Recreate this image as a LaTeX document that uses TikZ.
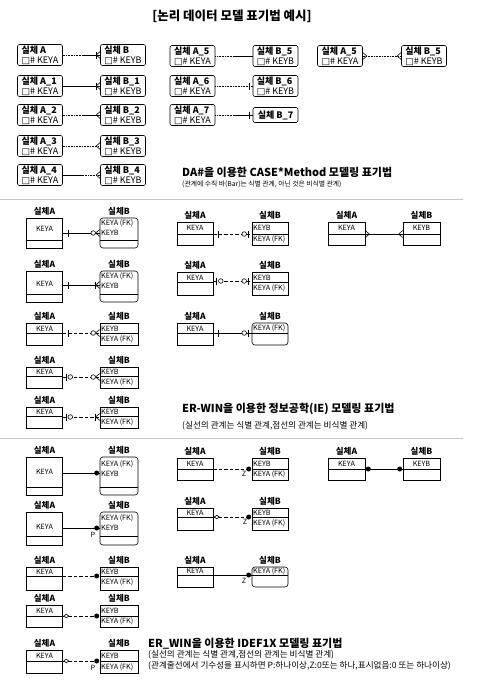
\documentclass[tikz,border=0pt]{standalone}
\usepackage{fontspec}
\setmainfont{Noto Sans CJK KR}
\newfontfamily\symfont{DejaVu Sans}
\usetikzlibrary{calc,positioning}

\newcommand{\keybox}{{\symfont □}}

\tikzset{
  rel/.style={line width=0.6pt},
  opt/.style={rel, densely dotted},
  nid/.style={rel, dash pattern=on 3.5pt off 2pt},
  ent/.style={draw, rel, rounded corners=2pt, minimum width=45, minimum height=21, inner sep=1pt, align=left, font=\fontsize{9}{10}\selectfont},
  tab/.style={draw, rel, minimum width=36, inner sep=0pt},
  keyrow/.style={path picture={\draw[rel] ([yshift=-#1pt]path picture bounding box.north west) -- ([yshift=-#1pt]path picture bounding box.north east);}},
  lab/.style={font=\fontsize{8.5}{9}\selectfont\bfseries, inner sep=1pt},
  keytxt/.style={font=\fontsize{7.2}{8}\selectfont, inner sep=0pt},
  captxt/.style={anchor=west, font=\fontsize{11}{12}\selectfont\bfseries, inner sep=0pt},
  subtxt/.style={anchor=west, font=\fontsize{8.6}{9}\selectfont, inner sep=0pt},
  crow/.pic={\draw[rel] (-4,0) -- (0,-3.5) (-4,0) -- (0,3.5);},
  bar/.pic={\draw[rel] (0,-3.5) -- (0,3.5);},
  ring/.pic={\draw[rel, fill=white] (0,0) circle (2.3);},
  blob/.pic={\fill (0,0) circle (2.5);},
  diam/.pic={\draw[rel, fill=white] (-2.5,0) -- (0,1.8) -- (2.5,0) -- (0,-1.8) -- cycle;},
}

\begin{document}
\begin{tikzpicture}[x=1pt, y=-1pt, label distance=1.5pt]
  \useasboundingbox (0,0) rectangle (485,696);

  \node[font=\fontsize{12.5}{14}\selectfont\bfseries] (title) at (232,16) {[논리 데이터 모델 표기법 예시]};

  % CASE*Method
  \node[ent] (caA0) at (40,55) {\textbf{실체 A}\\\keybox\# KEYA};
  \node[ent] (caB0) at (123,55) {\textbf{실체 B}\\\keybox\# KEYB};
  \node[ent] (caA1) at (40,86) {\textbf{실체 A\_1}\\\keybox\# KEYA};
  \node[ent] (caB1) at (123,86) {\textbf{실체 B\_1}\\\keybox\# KEYB};
  \node[ent] (caA2) at (40,115) {\textbf{실체 A\_2}\\\keybox\# KEYA};
  \node[ent] (caB2) at (123,115) {\textbf{실체 B\_2}\\\keybox\# KEYB};
  \node[ent] (caA3) at (40,146) {\textbf{실체 A\_3}\\\keybox\# KEYA};
  \node[ent] (caB3) at (123,146) {\textbf{실체 B\_3}\\\keybox\# KEYB};
  \node[ent] (caA4) at (40,175) {\textbf{실체 A\_4}\\\keybox\# KEYA};
  \node[ent] (caB4) at (123,175) {\textbf{실체 B\_4}\\\keybox\# KEYB};
  \node[ent] (caA5) at (192.5,56) {\textbf{실체 A\_5}\\\keybox\# KEYA};
  \node[ent] (caB5) at (275.5,56) {\textbf{실체 B\_5}\\\keybox\# KEYB};
  \node[ent] (caA6) at (192.5,86) {\textbf{실체 A\_6}\\\keybox\# KEYA};
  \node[ent] (caB6) at (275.5,86) {\textbf{실체 B\_6}\\\keybox\# KEYB};
  \node[ent] (caA7) at (192.5,115) {\textbf{실체 A\_7}\\\keybox\# KEYA};
  \node[ent, minimum height=15] (caB7) at (275.5,115) {\textbf{실체 B\_7}};
  \node[ent] (caA8) at (340,56) {\textbf{실체 A\_5}\\\keybox\# KEYA};
  \node[ent] (caB8) at (424,56) {\textbf{실체 B\_5}\\\keybox\# KEYB};

  \draw[opt] (caA0) -- ($(caA0.east)!.5!(caB0.west)$) coordinate (m0);
  \draw[rel] (m0) -- (caB0);
  \pic at (caB0.west) {crow}; \pic at ([xshift=-4pt]caB0.west) {bar};
  \draw[rel] (caA1) -- (caB1);
  \pic at (caB1.west) {crow}; \pic at ([xshift=-4pt]caB1.west) {bar};
  \draw[opt] (caA2) -- ($(caA2.east)!.5!(caB2.west)$) coordinate (m2);
  \draw[rel] (m2) -- (caB2);
  \pic at (caB2.west) {crow};
  \draw[opt] (caA3) -- (caB3);
  \pic at (caB3.west) {crow};
  \draw[rel] (caA4) -- ($(caA4.east)!.5!(caB4.west)$) coordinate (m4);
  \draw[opt] (m4) -- (caB4);
  \pic at (caB4.west) {crow};
  \draw[opt] (caA5) -- ($(caA5.east)!.5!(caB5.west)$) coordinate (m5);
  \draw[rel] (m5) -- (caB5);
  \draw[opt] (caA6) -- (caB6);
  \pic at ([xshift=-3pt]caB6.west) {bar};
  \draw[opt] (caA7) -- ($(caA7.east)!.5!(caB7.west)$) coordinate (m7);
  \draw[rel] (m7) -- (caB7);
  \pic at ([xshift=-3pt]caB7.west) {bar};
  \draw[opt] (caA8) -- (caB8);
  \pic[xscale=-1] at (caA8.east) {crow}; \pic at (caB8.west) {crow};

  \node[captxt] (caCap) at (182,172) {DA\#을 이용한 CASE*Method 모델링 표기법};
  \node[subtxt, font=\fontsize{6.8}{7}\selectfont] (caSub) at (182,184) {(관계에 수직 바(Bar)는 식별 관계, 아닌 것은 비식별 관계)};

  \draw[gray!45, line width=0.8pt] (0,199) -- (463,199);

  % IE (ER-WIN)
  \node[tab, minimum height=30, keyrow=22, label={[lab]above:실체A}] (ieA1) at (44.5,233) {};
  \node[tab, rounded corners=3pt, minimum width=38, minimum height=30, keyrow=22, label={[lab]above:실체B}] (ieB1) at (119,233) {};
  \node[keytxt] at (44.5,229) {KEYA};
  \node[keytxt, right] at (101,223) {KEYA (FK)};
  \node[keytxt, right] at (101,233) {KEYB};
  \draw[rel] (ieA1.east |- 0,233) coordinate (s1) -- (ieB1.west |- 0,233) coordinate (t1);
  \pic at ([xshift=5pt]s1) {bar}; \pic at (t1) {crow}; \pic at ([xshift=-6.5pt]t1) {ring};

  \node[tab, minimum height=31, keyrow=23, label={[lab]above:실체A}] (ieA2) at (44.5,286.5) {};
  \node[tab, rounded corners=3pt, minimum width=38, minimum height=31, keyrow=23, label={[lab]above:실체B}] (ieB2) at (119,286.5) {};
  \node[keytxt] at (44.5,284) {KEYA};
  \node[keytxt, right] at (101,276) {KEYA (FK)};
  \node[keytxt, right] at (101,286) {KEYB};
  \draw[rel] (ieA2.east |- 0,285) coordinate (s2) -- (ieB2.west |- 0,285) coordinate (t2);
  \pic at ([xshift=5pt]s2) {bar}; \pic at (t2) {crow}; \pic at ([xshift=-4pt]t2) {bar};

  \node[tab, minimum height=22, keyrow=10, label={[lab]above:실체A}] (ieA3) at (44.5,334) {};
  \node[tab, minimum width=38, minimum height=22, keyrow=10, label={[lab]above:실체B}] (ieB3) at (119,334) {};
  \node[keytxt] at (44.5,328.5) {KEYA};
  \node[keytxt, right] at (101,328.5) {KEYB};
  \node[keytxt, right] at (101,339.5) {KEYA (FK)};
  \draw[nid] (ieA3.east |- 0,333) coordinate (s3) -- (ieB3.west |- 0,333) coordinate (t3);
  \pic at ([xshift=5pt]s3) {bar}; \pic at (t3) {crow}; \pic at ([xshift=-6.5pt]t3) {ring};

  \node[tab, minimum height=21, keyrow=9, label={[lab]above:실체A}] (ieA4) at (44.5,377.5) {};
  \node[tab, minimum width=38, minimum height=21, keyrow=9, label={[lab]above:실체B}] (ieB4) at (119,377.5) {};
  \node[keytxt] at (44.5,371.5) {KEYA};
  \node[keytxt, right] at (101,371.5) {KEYB};
  \node[keytxt, right] at (101,382.5) {KEYA (FK)};
  \draw[nid] (ieA4.east |- 0,377) coordinate (s4) -- (ieB4.west |- 0,377) coordinate (t4);
  \pic at ([xshift=3pt]s4) {bar}; \pic at ([xshift=7.5pt]s4) {ring};
  \pic at (t4) {crow}; \pic at ([xshift=-6.5pt]t4) {ring};

  \node[tab, minimum height=21, keyrow=9, label={[lab]above:실체A}] (ieA5) at (44.5,417.5) {};
  \node[tab, minimum width=38, minimum height=21, keyrow=9, label={[lab]above:실체B}] (ieB5) at (119,417.5) {};
  \node[keytxt] at (44.5,411.5) {KEYA};
  \node[keytxt, right] at (101,411.5) {KEYB};
  \node[keytxt, right] at (101,422.5) {KEYA (FK)};
  \draw[nid] (ieA5.east |- 0,417) coordinate (s5) -- (ieB5.west |- 0,417) coordinate (t5);
  \pic at ([xshift=3pt]s5) {bar}; \pic at ([xshift=7.5pt]s5) {ring};
  \pic at (t5) {crow}; \pic at ([xshift=-4pt]t5) {bar};

  \node[tab, minimum height=23, keyrow=12, label={[lab]above:실체A}] (ieA6) at (195,233.5) {};
  \node[tab, minimum height=23, keyrow=12, label={[lab]above:실체B}] (ieB6) at (270,233.5) {};
  \node[keytxt] at (195,228) {KEYA};
  \node[keytxt, right] at (253,228) {KEYB};
  \node[keytxt, right] at (253,239.5) {KEYA (FK)};
  \draw[nid] (ieA6.east |- 0,234) coordinate (s6) -- (ieB6.west |- 0,234) coordinate (t6);
  \pic at ([xshift=5pt]s6) {bar}; \pic at ([xshift=-3pt]t6) {bar}; \pic at ([xshift=-7.5pt]t6) {ring};

  \node[tab, minimum width=37, minimum height=23, keyrow=12, label={[lab]above:실체A}] (ieA7) at (346.5,233.5) {};
  \node[tab, minimum width=37, minimum height=23, keyrow=12, label={[lab]above:실체B}] (ieB7) at (421.5,233.5) {};
  \node[keytxt] at (346.5,228) {KEYA};
  \node[keytxt] at (421.5,228) {KEYB};
  \draw[rel] (ieA7.east |- 0,234) coordinate (s7) -- (ieB7.west |- 0,234) coordinate (t7);
  \pic[xscale=-1] at (s7) {crow}; \pic at (t7) {crow};

  \node[tab, minimum height=23, keyrow=10, label={[lab]above:실체A}] (ieA8) at (195,283.5) {};
  \node[tab, minimum height=23, keyrow=10, label={[lab]above:실체B}] (ieB8) at (270,283.5) {};
  \node[keytxt] at (195,277.5) {KEYA};
  \node[keytxt, right] at (253,277.5) {KEYB};
  \node[keytxt, right] at (253,288.5) {KEYA (FK)};
  \draw[nid] (ieA8.east |- 0,281) coordinate (s8) -- (ieB8.west |- 0,281) coordinate (t8);
  \pic at ([xshift=3pt]s8) {bar}; \pic at ([xshift=7.5pt]s8) {ring};
  \pic at ([xshift=-3pt]t8) {bar}; \pic at ([xshift=-7.5pt]t8) {ring};

  \node[tab, minimum height=22, keyrow=10, label={[lab]above:실체A}] (ieA9) at (195,334) {};
  \node[tab, rounded corners=3pt, minimum height=22, keyrow=10, label={[lab]above:실체B}] (ieB9) at (270,334) {};
  \node[keytxt] at (195,328.5) {KEYA};
  \node[keytxt, right] at (253,328.5) {KEYA (FK)};
  \draw[rel] (ieA9.east |- 0,333) coordinate (s9) -- (ieB9.west |- 0,333) coordinate (t9);
  \pic at ([xshift=5pt]s9) {bar}; \pic at ([xshift=-3pt]t9) {bar}; \pic at ([xshift=-7.5pt]t9) {ring};

  \node[captxt] (ieCap) at (182,409) {ER-WIN을 이용한 정보공학(IE) 모델링 표기법};
  \node[subtxt] (ieSub) at (182,426) {(실선의 관계는 식별 관계,점선의 관계는 비식별 관계)};

  \draw[gray!45, line width=0.8pt] (0,438) -- (463,438);

  % IDEF1X (ER_WIN)
  \node[tab, minimum height=38, keyrow=30, label={[lab]above:실체A}] (idA1) at (44.5,476) {};
  \node[tab, rounded corners=3pt, minimum width=38, minimum height=38, keyrow=30, label={[lab]above:실체B}] (idB1) at (119,476) {};
  \node[keytxt] at (44.5,472) {KEYA};
  \node[keytxt, right] at (101,464) {KEYA (FK)};
  \node[keytxt, right] at (101,474) {KEYB};
  \draw[rel] (idA1.east |- 0,473) coordinate (u1) -- (idB1.west |- 0,473) coordinate (v1);
  \pic at ([xshift=-3pt]v1) {blob};

  \node[tab, minimum height=33, keyrow=24, label={[lab]above:실체A}] (idA2) at (44.5,528.5) {};
  \node[tab, rounded corners=3pt, minimum width=38, minimum height=33, keyrow=24, label={[lab]above:실체B}] (idB2) at (119,528.5) {};
  \node[keytxt] at (44.5,527) {KEYA};
  \node[keytxt, right] at (101,518) {KEYA (FK)};
  \node[keytxt, right] at (101,528) {KEYB};
  \draw[rel] (idA2.east |- 0,528) coordinate (u2) -- (idB2.west |- 0,528) coordinate (v2);
  \pic at ([xshift=-3pt]v2) {blob};
  \node[keytxt] at (93,535) {P};

  \node[tab, minimum height=23, keyrow=9, label={[lab]above:실체A}] (idA3) at (44.5,578.5) {};
  \node[tab, minimum width=38, minimum height=23, keyrow=9, label={[lab]above:실체B}] (idB3) at (119,578.5) {};
  \node[keytxt] at (44.5,571.5) {KEYA};
  \node[keytxt, right] at (101,571.5) {KEYB};
  \node[keytxt, right] at (101,582) {KEYA (FK)};
  \draw[nid] (idA3.east |- 0,576) coordinate (u3) -- (idB3.west |- 0,576) coordinate (v3);
  \pic at ([xshift=-3pt]v3) {blob};

  \node[tab, minimum height=22, keyrow=11, label={[lab]above:실체A}] (idA4) at (44.5,616) {};
  \node[tab, minimum width=38, minimum height=22, keyrow=11, label={[lab]above:실체B}] (idB4) at (119,616) {};
  \node[keytxt] at (44.5,610.5) {KEYA};
  \node[keytxt, right] at (101,610.5) {KEYB};
  \node[keytxt, right] at (101,621.5) {KEYA (FK)};
  \draw[nid] (idA4.east |- 0,616) coordinate (u4) -- (idB4.west |- 0,616) coordinate (v4);
  \pic at ([xshift=3.5pt]u4) {diam}; \pic at ([xshift=-3pt]v4) {blob};

  \node[tab, minimum height=23, keyrow=11, label={[lab]above:실체A}] (idA5) at (44.5,661.5) {};
  \node[tab, minimum width=38, minimum height=23, keyrow=11, label={[lab]above:실체B}] (idB5) at (119,661.5) {};
  \node[keytxt] at (44.5,655.5) {KEYA};
  \node[keytxt, right] at (101,655.5) {KEYB};
  \node[keytxt, right] at (101,667) {KEYA (FK)};
  \draw[nid] (idA5.east |- 0,661) coordinate (u5) -- (idB5.west |- 0,661) coordinate (v5);
  \pic at ([xshift=3.5pt]u5) {diam}; \pic at ([xshift=-3pt]v5) {blob};
  \node[keytxt] at (93,668) {P};

  \node[tab, minimum height=22, keyrow=11, label={[lab]above:실체A}] (idA6) at (195,469) {};
  \node[tab, minimum height=22, keyrow=11, label={[lab]above:실체B}] (idB6) at (270,469) {};
  \node[keytxt] at (195,463.5) {KEYA};
  \node[keytxt, right] at (253,463.5) {KEYB};
  \node[keytxt, right] at (253,474.5) {KEYA (FK)};
  \draw[nid] (idA6.east |- 0,469) coordinate (u6) -- (idB6.west |- 0,469) coordinate (v6);
  \pic at ([xshift=-3pt]v6) {blob};
  \node[keytxt] at (244,474) {Z};

  \node[tab, minimum width=37, minimum height=22, keyrow=11, label={[lab]above:실체A}] (idA7) at (346.5,469) {};
  \node[tab, minimum width=37, minimum height=22, keyrow=11, label={[lab]above:실체B}] (idB7) at (421.5,469) {};
  \node[keytxt] at (346.5,463.5) {KEYA};
  \node[keytxt] at (421.5,463.5) {KEYB};
  \draw[rel] (idA7.east |- 0,469) coordinate (u7) -- (idB7.west |- 0,469) coordinate (v7);
  \pic at ([xshift=3pt]u7) {blob}; \pic at ([xshift=-3pt]v7) {blob};

  \node[tab, minimum height=22, keyrow=9, label={[lab]above:실체A}] (idA8) at (195,519) {};
  \node[tab, minimum height=22, keyrow=9, label={[lab]above:실체B}] (idB8) at (270,519) {};
  \node[keytxt] at (195,512.5) {KEYA};
  \node[keytxt, right] at (253,512.5) {KEYB};
  \node[keytxt, right] at (253,523) {KEYA (FK)};
  \draw[nid] (idA8.east |- 0,517) coordinate (u8) -- (idB8.west |- 0,517) coordinate (v8);
  \pic at ([xshift=3.5pt]u8) {diam}; \pic at ([xshift=-3pt]v8) {blob};
  \node[keytxt] at (245,522) {Z};

  \node[tab, minimum height=20, keyrow=8, label={[lab]above:실체A}] (idA9) at (195,577) {};
  \node[tab, rounded corners=3pt, minimum height=20, keyrow=8, label={[lab]above:실체B}] (idB9) at (270,577) {};
  \node[keytxt] at (195,571) {KEYA};
  \node[keytxt, right] at (253,571) {KEYA (FK)};
  \draw[rel] (idA9.east |- 0,575) coordinate (u9) -- (idB9.west |- 0,575) coordinate (v9);
  \pic at ([xshift=-3pt]v9) {blob};
  \node[keytxt] at (244,581) {Z};

  \node[captxt] (idCap) at (148,644) {ER\_WIN을 이용한 IDEF1X 모델링 표기법};
  \node[subtxt] (idSub) at (148,654.5) {(실선의 관계는 식별 관계,점선의 관계는 비식별 관계)};
  \node[subtxt] (idNote) at (148,666) {(관계줄선에서 기수성을 표시하면 P:하나이상,Z:0또는 하나,표시없음:0 또는 하나이상)};
\end{tikzpicture}
\end{document}
